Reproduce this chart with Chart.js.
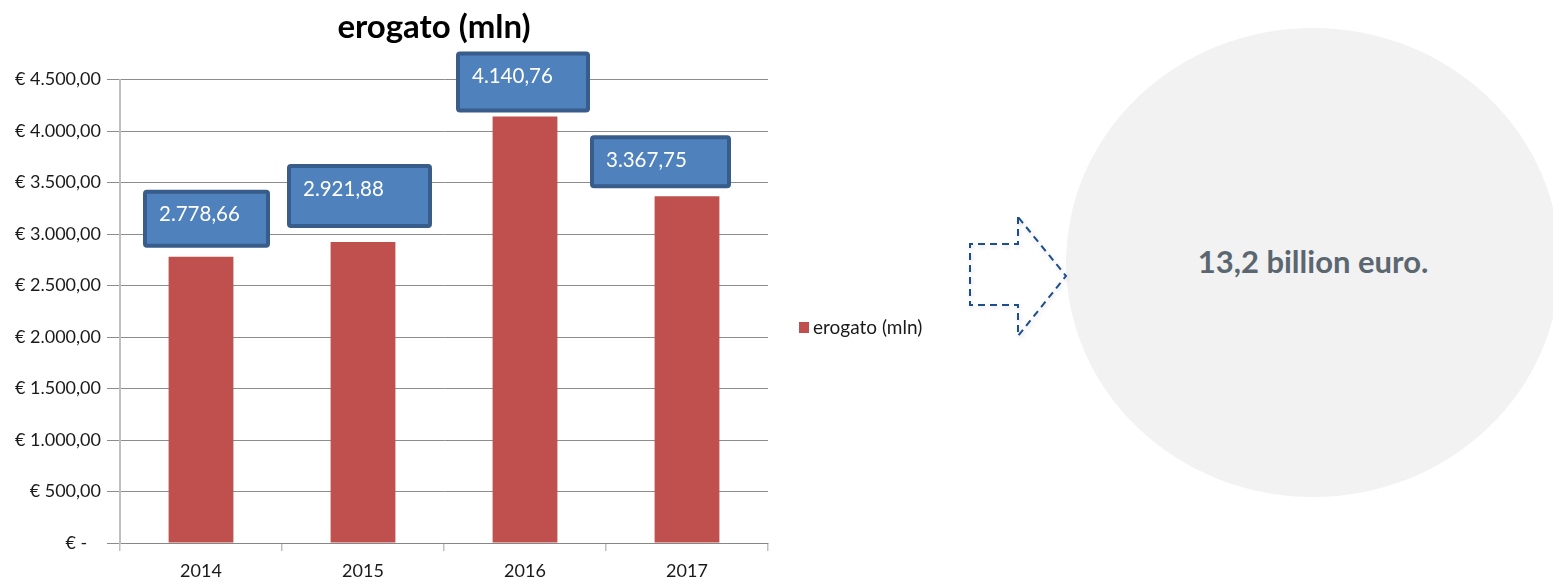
<!DOCTYPE html>
<html>
<head>
<meta charset="utf-8">
<script src="https://cdn.jsdelivr.net/npm/chart.js@4.4.1/dist/chart.umd.min.js"></script>
<style>
  html, body { margin: 0; padding: 0; background: #fff; }
  body { width: 1553px; height: 585px; position: relative; overflow: hidden; font-family: Lato, sans-serif; }
  #wrap { position: absolute; left: 0; top: 0; width: 940px; height: 585px; }
  #freccia { position: absolute; left: 0; top: 0; }
  #bolla {
    position: absolute; left: 1066px; top: 28px; width: 494px; height: 469px;
    border-radius: 50%; background: #f2f2f2;
    display: flex; align-items: center; justify-content: center;
  }
  #bolla span { font: bold 31px Lato, sans-serif; color: #5b6770; position: relative; top: -2px; }
</style>
</head>
<body>
<div id="wrap"><canvas id="grafico"></canvas></div>
<div id="bolla"><span>13,2 billion euro.</span></div>
<svg id="freccia" width="1553" height="585">
  <defs>
    <filter id="ombra" x="-20%" y="-20%" width="140%" height="140%">
      <feDropShadow dx="1" dy="2" stdDeviation="2" flood-color="#000" flood-opacity="0.15"/>
    </filter>
  </defs>
  <path d="M1018,217 L1018,244 L970,244 L970,305 L1018,305 L1018,336 L1066,276 Z"
        fill="none" stroke="#1f4e8c" stroke-width="2" stroke-dasharray="7 5" filter="url(#ombra)"/>
</svg>
<script>
const anni = ['2014', '2015', '2016', '2017'];
const erogato = [2778.66, 2921.88, 4140.76, 3367.75];
const tickValori = [0, 500, 1000, 1500, 2000, 2500, 3000, 3500, 4000, 4500];
const serieNome = 'erogato (mln)';

// posizione delle etichette rispetto alla cima della barra
const caselle = [
  { dx: -58, dy: -67, w: 127, h: 58 },
  { dx: -76, dy: -78, w: 145, h: 64 },
  { dx: -69, dy: -65, w: 134, h: 61 },
  { dx: -97, dy: -61, w: 141, h: 53 },
];

function numeroIt(v) {
  const parti = v.toFixed(2).split('.');
  return parti[0].replace(/\B(?=(\d{3})+(?!\d))/g, '.') + ',' + parti[1];
}

function euro(v) {
  if (v === 0) return '€ -   ';
  return '€ ' + numeroIt(v);
}

const etichettePlugin = {
  id: 'etichette',
  afterDatasetsDraw(chart) {
    const ctx = chart.ctx;
    const meta = chart.getDatasetMeta(0);
    ctx.save();
    meta.data.forEach((bar, i) => {
      const c = caselle[i];
      const x = bar.x + c.dx;
      const y = bar.y + c.dy;
      ctx.fillStyle = '#4f81bd';
      ctx.strokeStyle = '#385d8a';
      ctx.lineWidth = 4;
      ctx.beginPath();
      ctx.roundRect(x + 2, y + 2, c.w - 4, c.h - 4, 2);
      ctx.fill();
      ctx.stroke();
      ctx.fillStyle = '#ffffff';
      ctx.font = '20.5px Lato';
      ctx.textAlign = 'left';
      ctx.textBaseline = 'middle';
      ctx.fillText(numeroIt(erogato[i]), x + 16, y + 25);
    });

    // legenda
    ctx.fillStyle = '#c0504d';
    ctx.fillRect(799, 322, 10, 11);
    ctx.fillStyle = '#1a1a1a';
    ctx.font = '19px Lato';
    ctx.textBaseline = 'middle';
    ctx.fillText(serieNome, 813, 328);
    ctx.restore();
  }
};

document.addEventListener("DOMContentLoaded", function () {
  const ctx = document.getElementById('grafico').getContext('2d');

  new Chart(ctx, {
    type: 'bar',
    data: {
      labels: anni,
      datasets: [
        {
          label: serieNome,
          data: erogato,
          backgroundColor: '#c0504d',
          borderWidth: 0,
          barPercentage: 0.4,
          categoryPercentage: 1.0,
        },
      ],
    },
    options: {
      responsive: true,
      maintainAspectRatio: false,
      animation: false,
      layout: {
        padding: { left: 0, right: 72, top: 0, bottom: 0 },
      },
      plugins: {
        legend: { display: false },
        tooltip: { enabled: false },
        title: {
          display: true,
          text: serieNome,
          color: '#000',
          font: { family: 'Lato', size: 33, weight: 'bold' },
          padding: { top: 8, bottom: 32 },
        },
      },
      scales: {
        x: {
          afterFit: (scale) => {
            scale.height = 42;
          },
          grid: {
            display: true,
            drawOnChartArea: false,
            drawTicks: true,
            tickLength: 8,
            color: '#bfbfbf',
            lineWidth: 1.5,
            offset: true,
          },
          border: { color: '#868686', width: 1 },
          ticks: {
            color: '#1a1a1a',
            font: { family: 'Lato', size: 18 },
            padding: 9,
          },
        },
        y: {
          min: 0,
          max: 4500,
          afterBuildTicks: (scale) => {
            scale.ticks = tickValori.map((v) => ({ value: v }));
          },
          afterFit: (scale) => {
            scale.width = 120;
          },
          ticks: {
            color: '#1a1a1a',
            font: { family: 'Lato', size: 18 },
            padding: 6,
            callback: (v) => euro(v),
          },
          grid: {
            color: '#8c8c8c',
            tickColor: '#8c8c8c',
            tickLength: 13,
            lineWidth: 1,
          },
          border: { color: '#bfbfbf', width: 2 },
        },
        // spazio vuoto a destra del grafico (per la legenda)
        spazio: {
          type: 'linear',
          position: 'right',
          display: true,
          afterFit: (scale) => {
            scale.width = 100;
          },
          ticks: { display: false },
          grid: { display: false },
          border: { display: false },
        },
      },
    },
    plugins: [etichettePlugin],
  });
});
</script>
</body>
</html>
